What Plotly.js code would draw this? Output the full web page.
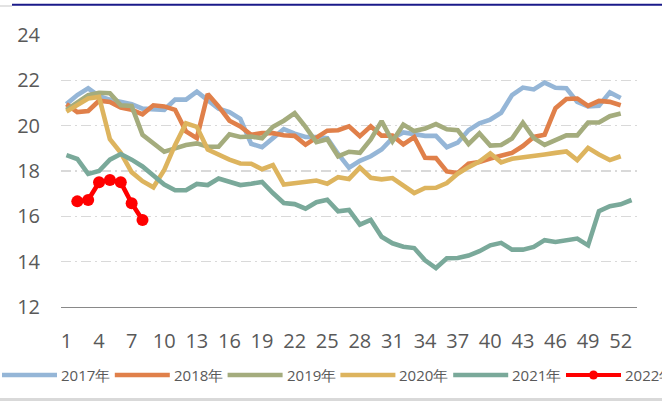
<!DOCTYPE html>
<html><head><meta charset="utf-8">
<script src="https://cdn.plot.ly/plotly-3.0.1.min.js"></script>
<style>html,body{margin:0;padding:0;background:#fff;overflow:hidden}#chart{width:662px;height:401px}</style>
</head><body><div id="chart"></div>
<script>
const weeks = [1,2,3,4,5,6,7,8,9,10,11,12,13,14,15,16,17,18,19,20,21,22,23,24,25,26,27,28,29,30,31,32,33,34,35,36,37,38,39,40,41,42,43,44,45,46,47,48,49,50,51,52,53];
const tickWeeks = [1,4,7,10,13,16,19,22,25,28,31,34,37,40,43,46,49,52];
const yTicks = [12,14,16,18,20,22,24];

const y2017 = [20.95,21.35,21.65,21.3,21.15,21.05,20.95,20.75,20.7,20.7,21.15,21.15,21.5,21.1,20.75,20.6,20.3,19.2,19.05,19.45,19.85,19.65,19.5,19.5,19.45,18.75,18.15,18.45,18.65,18.95,19.45,19.7,19.6,19.55,19.55,19.05,19.25,19.8,20.1,20.27,20.57,21.35,21.68,21.6,21.9,21.67,21.65,21.05,20.85,20.88,21.47,21.22];
const y2018 = [20.95,20.6,20.65,21.1,21.05,20.8,20.7,20.5,20.9,20.85,20.7,19.75,19.45,21.4,20.85,20.22,19.97,19.6,19.67,19.67,19.58,19.55,19.16,19.5,19.78,19.8,19.97,19.54,19.97,19.56,19.56,19.17,19.5,18.58,18.57,17.98,17.91,18.32,18.4,18.55,18.7,18.8,19.1,19.5,19.6,20.77,21.18,21.2,20.87,21.09,21.05,20.9];
const y2019 = [20.7,21.0,21.35,21.45,21.43,20.9,20.87,19.6,19.2,18.85,19.0,19.15,19.22,19.07,19.07,19.62,19.5,19.52,19.44,19.95,20.22,20.55,19.95,19.27,19.4,18.65,18.85,18.8,19.39,20.2,19.31,20.05,19.76,19.87,20.07,19.84,19.8,19.19,19.66,19.12,19.15,19.43,20.13,19.45,19.15,19.35,19.57,19.57,20.14,20.14,20.42,20.54];
const y2020 = [20.62,20.9,21.2,21.27,19.4,18.8,17.95,17.55,17.28,18.05,19.15,20.1,19.95,18.95,18.72,18.5,18.33,18.32,18.08,18.26,17.4,17.46,17.54,17.58,17.44,17.73,17.65,18.15,17.7,17.63,17.69,17.35,17.03,17.25,17.26,17.47,17.88,18.17,18.42,18.78,18.38,18.54,18.62,18.7,18.73,18.8,18.86,18.48,19.02,18.73,18.48,18.65];
const y2021 = [18.7,18.53,17.87,18.0,18.5,18.75,18.5,18.2,17.8,17.4,17.15,17.15,17.43,17.38,17.67,17.52,17.38,17.44,17.52,17.03,16.59,16.54,16.34,16.62,16.73,16.22,16.28,15.63,15.84,15.1,14.81,14.66,14.6,14.06,13.72,14.15,14.16,14.27,14.46,14.72,14.83,14.53,14.53,14.65,14.95,14.87,14.92,15.02,14.72,16.23,16.45,16.53,16.72];
const y2022 = [null,16.66,16.72,17.5,17.6,17.5,16.58,15.84];

const seriesNames = ['2017年','2018年','2019年','2020年','2021年','2022年'];
const seriesColors = ['#95B6D7','#E0804A','#A4AC7D','#DDB45E','#7AA99A','#FF0000'];
const seriesData = [y2017,y2018,y2019,y2020,y2021,y2022];

const W = 662, H = 401, ML = 61, MR = 25, MT = 35, MB = 94;
const PW = W - ML - MR, PH = H - MT - MB;
const px2x = p => (p - ML) / PW;
const py2y = p => 1 - (p - MT) / PH;

const traces = seriesData.map((ys, i) => {
  const isLast = i === seriesData.length - 1;
  const t = {
    x: weeks.slice(0, ys.length), y: ys, type: 'scatter',
    mode: isLast ? 'lines+markers' : 'lines',
    name: seriesNames[i], showlegend: false,
    line: {color: seriesColors[i], width: 4.6},
    connectgaps: false, hoverinfo: 'skip'
  };
  if (isLast) t.marker = {color: seriesColors[i], size: 12};
  return t;
});

const shapes = [];
const annotations = [];
shapes.push({type:'line', xref:'paper', yref:'paper', x0:px2x(12), x1:px2x(662), y0:py2y(4.8), y1:py2y(4.8), line:{color:'#1A1A8A', width:2}});
shapes.push({type:'line', xref:'paper', yref:'paper', x0:px2x(0), x1:px2x(12), y0:py2y(6), y1:py2y(6), line:{color:'#E3E3E3', width:2}});
shapes.push({type:'rect', xref:'paper', yref:'paper', x0:px2x(0), x1:px2x(662), y0:py2y(398), y1:py2y(401.5), line:{width:0}, fillcolor:'#D9D9D9'});

const legY = 375, legStep = 112.8, legStart = 2, sampleLen = 55;
seriesNames.forEach((nm, i) => {
  const x0 = legStart + i * legStep;
  const isLast = i === seriesNames.length - 1;
  shapes.push({type:'line', xref:'paper', yref:'paper', x0:px2x(x0), x1:px2x(x0 + sampleLen), y0:py2y(legY), y1:py2y(legY), line:{color:seriesColors[i], width: isLast ? 4 : 4.5}});
  if (isLast) {
    const cx = x0 + sampleLen / 2, r = 4.5;
    shapes.push({type:'circle', xref:'paper', yref:'paper', x0:px2x(cx - r), x1:px2x(cx + r), y0:py2y(legY + r), y1:py2y(legY - r), line:{width:0}, fillcolor:seriesColors[i]});
  }
  annotations.push({xref:'paper', yref:'paper', x:px2x(x0 + sampleLen + 2), y:py2y(legY - 0.5), xanchor:'left', yanchor:'middle', text:nm, showarrow:false, font:{family:'Open Sans, sans-serif', size:15, color:'#595959'}});
});

const layout = {
  width: W, height: H,
  margin: {l: ML, r: MR, t: MT, b: MB, pad: 0},
  paper_bgcolor: '#ffffff', plot_bgcolor: '#ffffff',
  showlegend: false,
  font: {family: 'Open Sans, sans-serif', color: '#595959'},
  xaxis: {
    type: 'linear', range: [0.5, 53.5], tickmode: 'array', tickvals: tickWeeks,
    ticktext: tickWeeks.map(String),
    showgrid: false, zeroline: false, showline: true, linecolor: '#898989', linewidth: 1,
    ticks: '', tickfont: {size: 20, color: '#595959', family: 'Open Sans, sans-serif'},
    ticklabelstandoff: 16, fixedrange: true
  },
  yaxis: {
    range: [12, 24], tickmode: 'array', tickvals: yTicks, ticktext: yTicks.map(String),
    showgrid: true, gridcolor: '#D9D9D9', gridwidth: 1.5, griddash: '10px,4px,2px,4px',
    zeroline: false, showline: false, ticks: '',
    tickfont: {size: 20, color: '#595959', family: 'Open Sans, sans-serif'},
    ticklabelstandoff: 20, fixedrange: true
  },
  shapes: shapes, annotations: annotations
};

Plotly.newPlot('chart', traces, layout, {displayModeBar: false, staticPlot: true});
</script>
</body></html>
